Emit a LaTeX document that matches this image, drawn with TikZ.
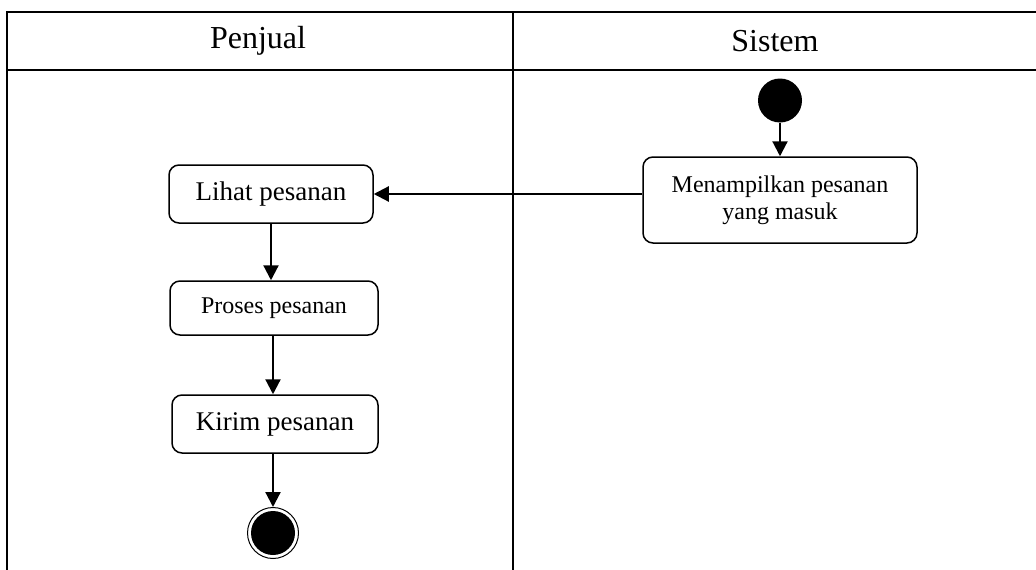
\documentclass[tikz,border=0pt]{standalone}
\usepackage{fontspec}
\setmainfont{Liberation Serif}
\usetikzlibrary{arrows.meta}
\begin{document}
\begin{tikzpicture}[x=1pt,y=-1pt,
  lane/.style={line width=2pt},
  act/.style={draw, line width=1.5pt, rounded corners=10pt, align=center, inner sep=0pt},
  flow/.style={line width=2.2pt, -{Triangle[length=15pt,width=15pt]}},
  hdr/.style={font=\fontsize{32}{38}\selectfont}]
\useasboundingbox (0,0) rectangle (1036,570);
% swimlane frame
\draw[lane] (7,12) -- (1036,12);
\draw[lane] (7,70) -- (1036,70);
\draw[lane] (7,11) -- (7,570);
\draw[lane] (512.5,11) -- (512.5,570);
\node[hdr] (h1) at (258,41) {Penjual};
\node[hdr] (h2) at (775,41) {Sistem};
% nodes
\node[circle, fill=black, minimum size=44pt, inner sep=0pt] (start) at (780,100.5) {};
\node[act, minimum width=274pt, minimum height=86pt, font=\fontsize{24}{27}\selectfont] (tampil) at (780,200) {Menampilkan pesanan\\yang masuk};
\node[act, minimum width=204pt, minimum height=58pt, font=\fontsize{27}{32}\selectfont] (lihat) at (271,194) {Lihat pesanan};
\node[act, minimum width=208pt, minimum height=54pt, font=\fontsize{24}{29}\selectfont] (proses) at (274,308) {Proses pesanan};
\node[act, minimum width=206pt, minimum height=58pt, font=\fontsize{27}{32}\selectfont] (kirim) at (275,424) {Kirim pesanan};
\node[circle, draw, line width=1pt, minimum size=51pt, inner sep=0pt,
  path picture={\fill (path picture bounding box.center) circle (22pt);}] (end) at (273,533) {};
% connectors
\draw[flow] (start.south) -- (start.south |- tampil.north);
\draw[flow] (tampil.west |- lihat.east) -- (lihat.east);
\draw[flow] (lihat.south -| 271,0) -- (proses.north -| 271,0);
\draw[flow] (proses.south -| 273,0) -- (kirim.north -| 273,0);
\draw[flow] (kirim.south -| 273,0) -- (end.north);
\end{tikzpicture}
\end{document}
